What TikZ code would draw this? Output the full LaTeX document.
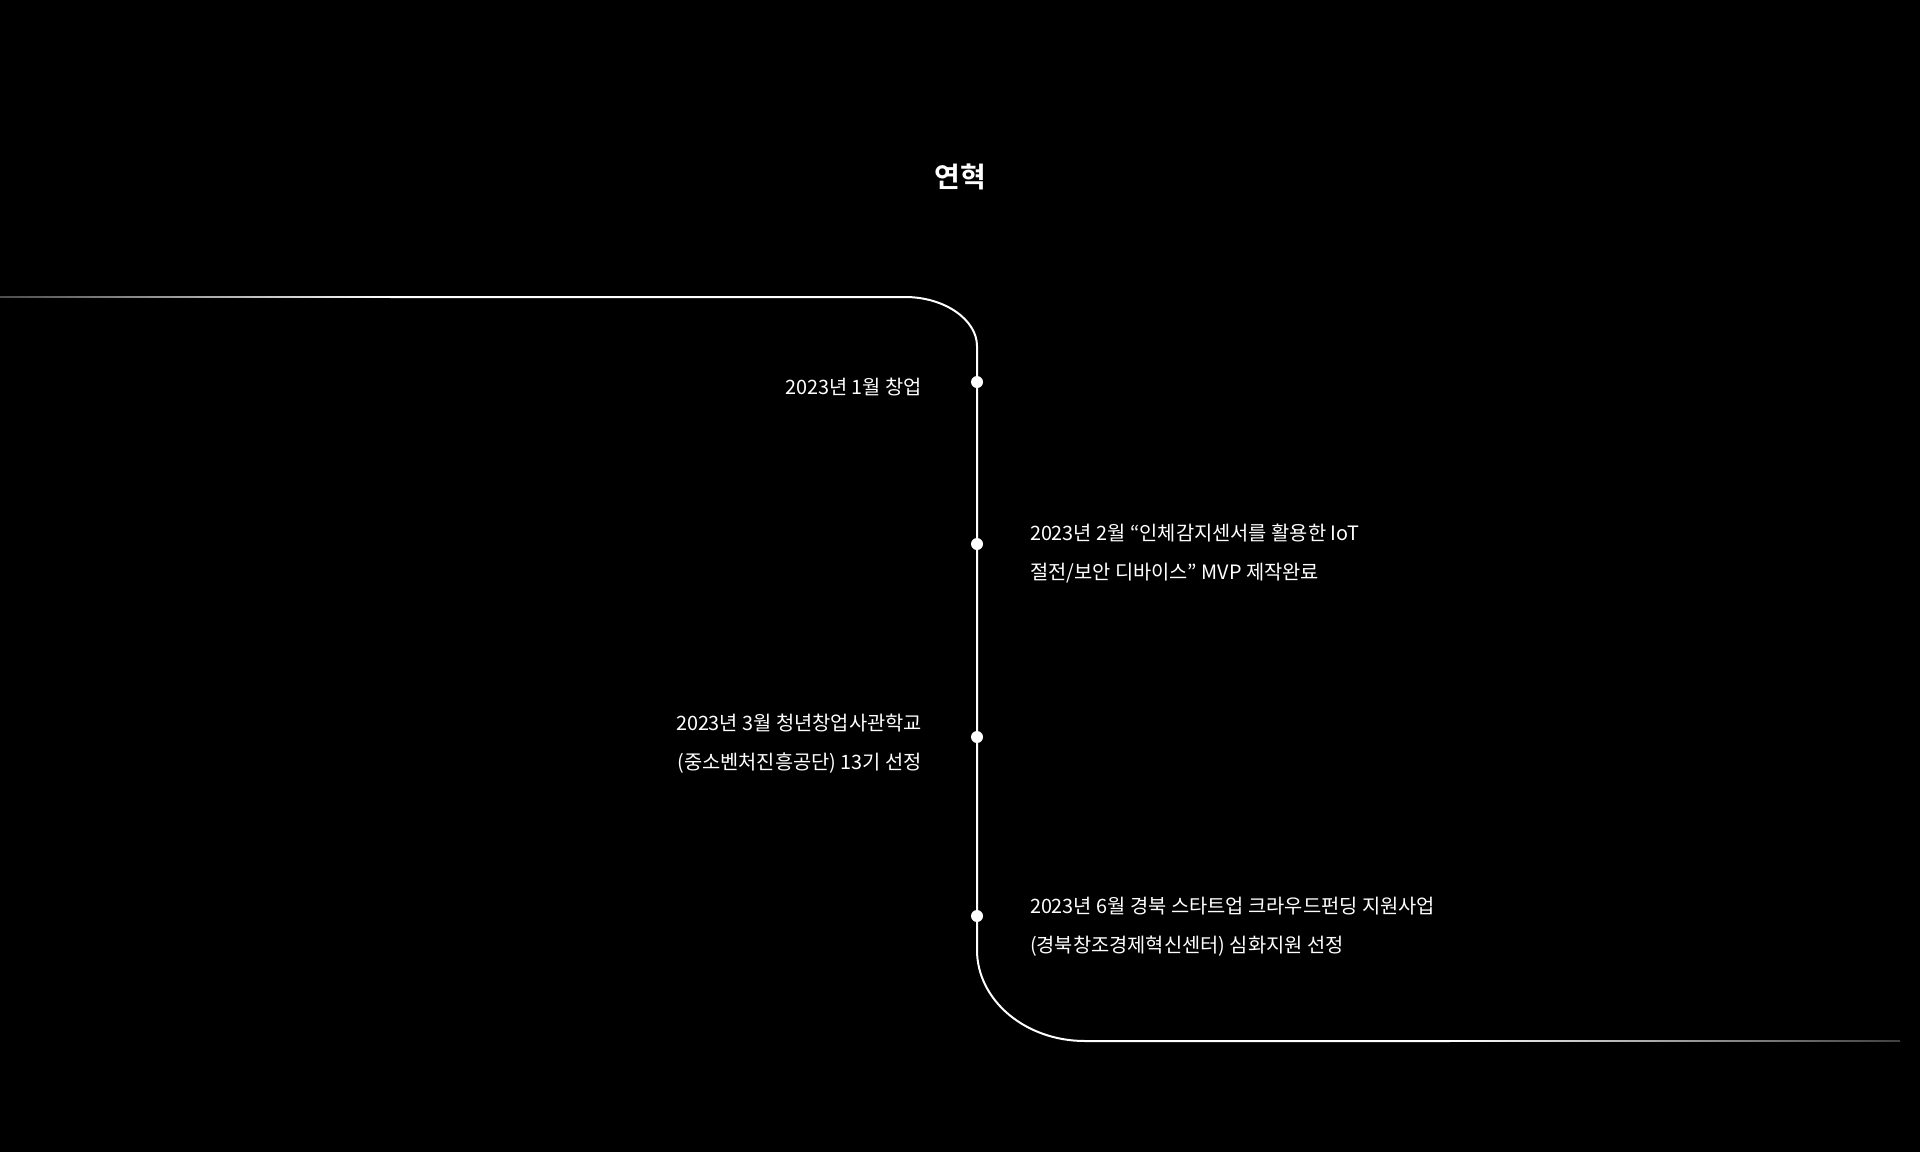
\documentclass[tikz,border=0pt]{standalone}
\usepackage{fontspec}
\newfontfamily\kr{Noto Sans CJK KR}
\newfontfamily\krb{Noto Sans CJK KR Bold}
\definecolor{fadeL}{gray}{0.3}
\definecolor{fadeR}{gray}{0.25}
\begin{document}
\begin{tikzpicture}[x=1pt,y=-1pt,
  every node/.style={inner sep=0pt,outer sep=0pt},
  tl/.style={line width=2pt,draw=white},
  dot/.style={circle,fill=white,minimum size=12pt},
  entry/.style={text=white,font=\kr\fontsize{19.8}{39}\selectfont},
  title/.style={text=white,font=\krb\fontsize{28}{34}\selectfont}]
\fill[black] (0,0) rectangle (1920,1152);
\useasboundingbox (0,0) rectangle (1920,1152);
% title
\node[title] (t) at (960,177) {연혁};
% timeline
\coordinate (a1) at (390,297);
\coordinate (a2) at (905,297);
\coordinate (b1) at (977,346);
\coordinate (b2) at (977,950);
\coordinate (c1) at (1085,1041);
\coordinate (c2) at (1450,1041);
\shade[left color=fadeL, right color=white] (0,296.2) rectangle (390,297.8);
\draw[tl] (a1) -- (a2) .. controls (945,297) and (977,320) .. (b1) -- (b2)
  .. controls (977,1000) and (1025,1041) .. (c1) -- (c2);
\shade[left color=white, right color=fadeR] (1450,1040.2) rectangle (1900,1041.8);
% dots
\node[dot] (d1) at (977,382) {};
\node[dot] (d2) at (977,544) {};
\node[dot] (d3) at (977,737) {};
\node[dot] (d4) at (977,916) {};
% entries
\node[entry,anchor=base east] (e1) at (922,394) {2023년 1월 창업};
\node[entry,anchor=base west] (e2a) at (1030,540) {2023년 2월 “인체감지센서를 활용한 IoT};
\node[entry,anchor=base west] (e2b) at (1030,579) {절전/보안 디바이스” MVP 제작완료};
\node[entry,anchor=base east] (e3a) at (922,730) {2023년 3월 청년창업사관학교};
\node[entry,anchor=base east] (e3b) at (922,769) {(중소벤처진흥공단) 13기 선정};
\node[entry,anchor=base west] (e4a) at (1030,913) {2023년 6월 경북 스타트업 크라우드펀딩 지원사업};
\node[entry,anchor=base west] (e4b) at (1030,952) {(경북창조경제혁신센터) 심화지원 선정};
\end{tikzpicture}
\end{document}
